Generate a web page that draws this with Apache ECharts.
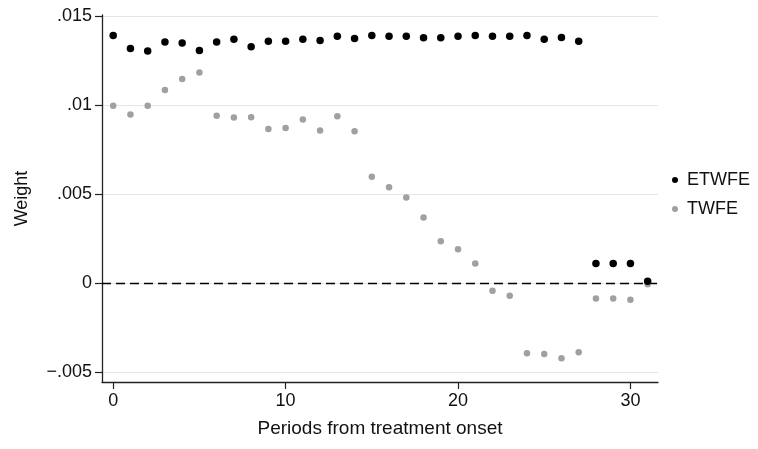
<!DOCTYPE html>
<html>
<head>
<meta charset="utf-8">
<script src="https://cdn.jsdelivr.net/npm/echarts@6/dist/echarts.min.js"></script>
<style>
  html, body { margin: 0; padding: 0; background: #fff; }
  #chart { width: 758px; height: 449px; }
</style>
</head>
<body>
<div id="chart"></div>
<script>
// Periods from treatment onset
const periods = [0, 1, 2, 3, 4, 5, 6, 7, 8, 9, 10, 11, 12, 13, 14, 15,
  16, 17, 18, 19, 20, 21, 22, 23, 24, 25, 26, 27, 28, 29, 30, 31];

// Estimated weights per period
const etwfe = [0.01393, 0.01319, 0.01305, 0.01356, 0.01350, 0.01309, 0.01356, 0.01371,
  0.01330, 0.01361, 0.01361, 0.01371, 0.01365, 0.01388, 0.01376, 0.01393,
  0.01388, 0.01388, 0.01380, 0.01380, 0.01388, 0.01393, 0.01388, 0.01388,
  0.01393, 0.01371, 0.01382, 0.01361, 0.00111, 0.00111, 0.00111, 0.00010];
const twfe = [0.00998, 0.00949, 0.00998, 0.01086, 0.01148, 0.01184, 0.00942, 0.00931,
  0.00933, 0.00867, 0.00873, 0.00920, 0.00858, 0.00938, 0.00854, 0.00599,
  0.00539, 0.00481, 0.00369, 0.00236, 0.00191, 0.00111, -0.00043, -0.00071,
  -0.00395, -0.00399, -0.00423, -0.00389, -0.00086, -0.00086, -0.00094, -0.00006];

const seriesNames = ['ETWFE', 'TWFE'];

// Axis ticks and their labels
const xTicks = [0, 10, 20, 30];
const yTicks = [-0.005, 0, 0.005, 0.01, 0.015];
const yTickLabels = ['\u2212.005', '0', '.005', '.01', '.015'];

const font = 'Liberation Sans, Arial, Helvetica, sans-serif';
const axisColor = '#222';

const toPairs = (vals) => periods.map((p, i) => [p, vals[i]]);

const chart = echarts.init(document.getElementById('chart'), null, { renderer: 'canvas' });

chart.setOption({
  animation: false,
  backgroundColor: '#fff',
  textStyle: { fontFamily: font },
  grid: { left: 102, right: 100, top: 15, bottom: 67, containLabel: false },
  legend: {
    orient: 'vertical',
    left: 667,
    top: 166,
    itemWidth: 14,
    itemHeight: 6,
    itemGap: 11,
    icon: 'circle',
    data: seriesNames,
    textStyle: { fontFamily: font, fontSize: 18, color: '#111' }
  },
  xAxis: {
    type: 'value',
    min: -0.65,
    max: 31.6,
    name: 'Periods from treatment onset',
    nameLocation: 'middle',
    nameGap: 37,
    nameTextStyle: { fontFamily: font, fontSize: 19, color: '#111' },
    axisLine: { show: true, onZero: false, lineStyle: { color: axisColor, width: 1.3 } },
    axisTick: { show: true, customValues: xTicks, length: 7, lineStyle: { color: axisColor, width: 1.2 } },
    axisLabel: { customValues: xTicks, margin: 10, fontFamily: font, fontSize: 18, color: '#111' },
    splitLine: { show: false }
  },
  yAxis: {
    type: 'value',
    min: -0.00556,
    max: 0.01508,
    name: 'Weight',
    nameLocation: 'middle',
    nameRotate: 90,
    nameGap: 71,
    nameTextStyle: { fontFamily: font, fontSize: 18, color: '#111' },
    axisLine: { show: true, onZero: false, lineStyle: { color: axisColor, width: 1.3 } },
    axisTick: { show: true, customValues: yTicks, length: 7, lineStyle: { color: axisColor, width: 1.2 } },
    axisLabel: {
      customValues: yTicks,
      margin: 10,
      fontFamily: font,
      fontSize: 18,
      color: '#111',
      formatter: (v) => {
        const i = yTicks.findIndex((t) => Math.abs(t - v) < 1e-9);
        return i >= 0 ? yTickLabels[i] : '';
      }
    },
    // light horizontal grid at each y tick
    splitLine: { show: true, lineStyle: { color: '#e6e6e6', width: 1.2 } }
  },
  series: [
    {
      name: seriesNames[0],
      type: 'scatter',
      z: 11,
      symbol: 'circle',
      symbolSize: 7.5,
      itemStyle: { color: '#000', opacity: 1 },
      data: toPairs(etwfe),
      markLine: {
        silent: true,
        symbol: 'none',
        animation: false,
        label: { show: false },
        emphasis: { disabled: true },
        // dashed reference line at zero
        data: [{ yAxis: 0, lineStyle: { color: '#000', width: 1.3, type: [9, 5] } }]
      }
    },
    {
      name: seriesNames[1],
      type: 'scatter',
      z: 10,
      symbol: 'circle',
      symbolSize: 6.5,
      itemStyle: { color: '#a0a0a0', opacity: 1 },
      data: toPairs(twfe)
    }
  ]
});
</script>
</body>
</html>
